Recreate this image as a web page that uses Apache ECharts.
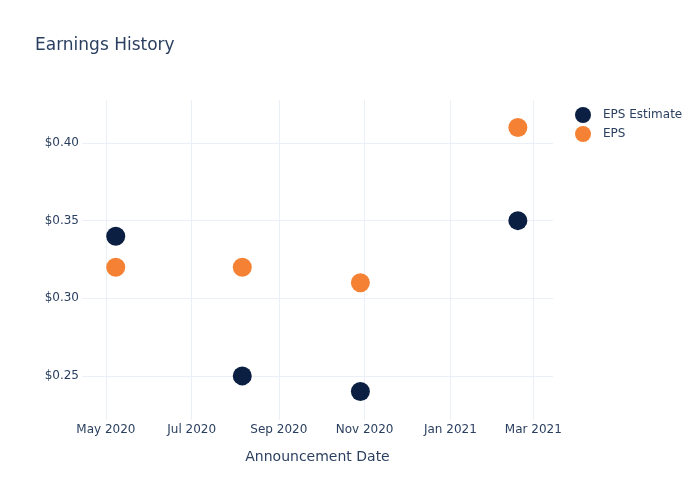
<!DOCTYPE html>
<html><head><meta charset="utf-8">
<script src="https://cdn.jsdelivr.net/npm/echarts@6/dist/echarts.min.js"></script>
<style>html,body{margin:0;padding:0;background:#fff}#c{width:700px;height:500px}</style>
</head><body><div id="c"></div>
<script>
const dates = ['2020-05-08', '2020-08-06', '2020-10-29', '2021-02-18'];
const epsEstimate = [0.34, 0.25, 0.24, 0.35];
const eps = [0.32, 0.32, 0.31, 0.41];
const xTicks = ['2020-05-01', '2020-07-01', '2020-09-01', '2020-11-01', '2021-01-01', '2021-03-01'];
const yTicks = [0.25, 0.30, 0.35, 0.40];
const months = ['Jan','Feb','Mar','Apr','May','Jun','Jul','Aug','Sep','Oct','Nov','Dec'];
const ts = s => new Date(s + 'T00:00:00Z').getTime();
const txt = '#2a3f5f';
const font = '"DejaVu Sans", sans-serif';
const chart = echarts.init(document.getElementById('c'), null, {renderer: 'canvas'});
chart.setOption({
  backgroundColor: '#fff',
  animation: false,
  textStyle: {fontFamily: font},
  title: {text: 'Earnings History', left: 35, top: 37, padding: 0,
    textStyle: {color: txt, fontSize: 17, fontWeight: 'normal', fontFamily: font}},
  legend: {orient: 'vertical', left: 575, top: 107, padding: 0, itemGap: 3, itemWidth: 26, itemHeight: 16,
    icon: 'circle', textStyle: {color: txt, fontSize: 12, fontFamily: font, padding: [0, 0, 0, 2]},
    data: ['EPS Estimate', 'EPS']},
  grid: {left: 82, right: 147, top: 100, bottom: 80, containLabel: false},
  xAxis: {
    type: 'value', min: ts('2020-04-14'), max: ts('2021-03-15'),
    name: 'Announcement Date', nameLocation: 'middle', nameGap: 30,
    nameTextStyle: {color: txt, fontSize: 14, fontFamily: font},
    axisLine: {show: false}, axisTick: {show: false, customValues: xTicks.map(ts)},
    axisLabel: {color: txt, fontSize: 12, margin: 4, customValues: xTicks.map(ts), fontFamily: font,
      formatter: v => { const d = new Date(v); return months[d.getUTCMonth()] + ' ' + d.getUTCFullYear(); }},
    splitLine: {show: true, lineStyle: {color: '#ebf0f8', width: 1}}
  },
  yAxis: {
    type: 'value', min: 0.2216, max: 0.4277,
    axisLine: {show: false}, axisTick: {show: false, customValues: yTicks},
    axisLabel: {color: txt, fontSize: 12, margin: 3, customValues: yTicks, fontFamily: font,
      formatter: v => '$' + v.toFixed(2)},
    splitLine: {show: true, lineStyle: {color: '#ebf0f8', width: 1}}
  },
  series: [
    {name: 'EPS Estimate', type: 'scatter', symbolSize: 19,
      itemStyle: {color: '#0b1f42', opacity: 1},
      data: dates.map((d, i) => [ts(d), epsEstimate[i]])},
    {name: 'EPS', type: 'scatter', symbolSize: 19,
      itemStyle: {color: '#f58234', opacity: 1},
      data: dates.map((d, i) => [ts(d), eps[i]])}
  ]
});
</script></body></html>
